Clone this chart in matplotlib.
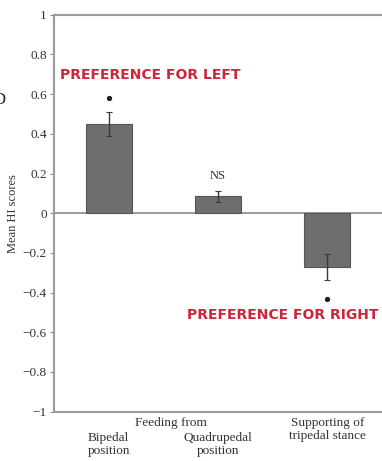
import matplotlib
matplotlib.use("Agg")
from matplotlib import pyplot as plt

# Data
groups = ["Bipedal\nposition", "Quadrupedal\nposition", "Supporting of\ntripedal stance"]
means = [0.45, 0.085, -0.27]
errors = [0.06, 0.028, 0.065]
marks = ["*", "NS", "*"]
mark_y = [0.58, 0.19, -0.43]
yticks = [-1, -0.8, -0.6, -0.4, -0.2, 0, 0.2, 0.4, 0.6, 0.8, 1]
ytick_labels = ["\u22121", "\u22120.8", "\u22120.6", "\u22120.4", "\u22120.2", "0",
                "0.2", "0.4", "0.6", "0.8", "1"]

plt.rcParams['font.family'] = ['Liberation Serif', 'DejaVu Serif']

fig = plt.figure(figsize=(3.82, 4.61), dpi=100)
ax = fig.add_axes([0.141, 0.107, 0.859, 0.861])

x = list(range(len(groups)))
ax.bar(x, means, width=0.42, color="#6e6e6e", edgecolor="#555555", linewidth=0.8, zorder=2)
ax.errorbar(x, means, yerr=errors, fmt="none", ecolor="#3a3a3a", elinewidth=1.0,
            capsize=2.5, capthick=0.8, zorder=3)
ax.axhline(0, color="#8a8a8a", linewidth=1.2, zorder=1)

for xi, m, my in zip(x, marks, mark_y):
    if m == "*":
        ax.plot(xi, my, marker="o", markersize=2.8, color="#222222", zorder=4)
    else:
        ax.text(xi, my, m, ha="center", va="center", fontsize=9, color="#333333")

ax.set_xlim(-0.5, 2.5)
ax.set_ylim(-1, 1)
ax.set_yticks(yticks)
ax.set_yticklabels(ytick_labels, fontsize=9.5, color="#333333")
ax.tick_params(axis="y", direction="out", length=3, width=0.8, color="#888888", pad=2)
ax.set_xticks([])

for side in ["left", "top", "bottom"]:
    ax.spines[side].set_color("#999999")
    ax.spines[side].set_linewidth(1.5)
ax.spines["right"].set_visible(False)

ax.set_ylabel("Mean HI scores", fontsize=9, color="#333333", labelpad=3)

# x-axis labels
lab = dict(ha="center", va="top", fontsize=9.5, color="#333333", linespacing=1.15)
ax.text(0.57, -1.025, "Feeding from", **lab)
ax.text(0, -1.1, groups[0], **lab)
ax.text(1, -1.1, groups[1], **lab)
ax.text(2, -1.025, groups[2], **lab)

# annotations
ax.text(-0.445, 0.697, "PREFERENCE FOR LEFT", ha="left", va="center", fontsize=10,
        fontweight="bold", color="#cc2638", family="DejaVu Sans")
ax.text(2.47, -0.515, "PREFERENCE FOR RIGHT", ha="right", va="center", fontsize=10,
        fontweight="bold", color="#cc2638", family="DejaVu Sans")

fig.text(-0.018, 0.783, "D", ha="left", va="center", fontsize=12, color="#222222")

fig.savefig("out.png", dpi=100)
